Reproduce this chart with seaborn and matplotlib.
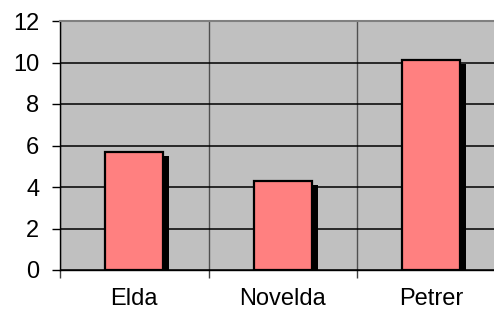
import matplotlib
matplotlib.use("Agg")
import matplotlib.pyplot as plt
import matplotlib.patheffects as pe
import seaborn as sns
import pandas as pd

categories = ["Elda", "Novelda", "Petrer"]
values = [5.7, 4.3, 10.1]
yticks = [0, 2, 4, 6, 8, 10, 12]

sns.set_style("white")
plt.rcParams['font.family'] = ['Liberation Sans', 'DejaVu Sans']

df = pd.DataFrame({"cat": categories, "val": values})

fig = plt.figure(figsize=(4.94, 3.19), dpi=100)
W, H = 494, 319
ax = fig.add_axes([60 / W, 49 / H, 445.5 / W, 249 / H])
ax.set_facecolor("#C0C0C0")

sns.barplot(data=df, x="cat", y="val", color="#FF8080", saturation=1,
            width=0.39, edgecolor="black", linewidth=1.6, ax=ax, zorder=3)
for p in ax.patches:
    p.set_path_effects([pe.SimplePatchShadow(offset=(4.5, -2.8), shadow_rgbFace="black", alpha=1.0),
                        pe.Normal()])

ax.set_xlim(-0.5, 2.5)
ax.set_ylim(0, 12)
ax.set_yticks(yticks)
ax.set_yticklabels([str(t) for t in yticks], fontsize=17, color="black")
ax.set_xticks(range(len(categories)))
ax.set_xticklabels(categories, fontsize=17, color="black")
ax.set_xlabel("")
ax.set_ylabel("")

ax.set_xticks([-0.5, 0.5, 1.5, 2.5], minor=True)
ax.tick_params(axis="x", which="major", length=0, pad=13)
ax.tick_params(axis="x", which="minor", length=6, width=1, color="#404040", direction="out", bottom=True)
ax.tick_params(axis="y", which="major", length=6, width=1, color="black", direction="out", pad=9, left=True)

ax.yaxis.grid(True, color="black", linewidth=1.1, zorder=1)
ax.xaxis.grid(True, which="minor", color="#505050", linewidth=1.0, zorder=1)
ax.xaxis.grid(False, which="major")
ax.set_axisbelow(True)

for s in ["left", "bottom"]:
    ax.spines[s].set_color("black")
    ax.spines[s].set_linewidth(1.0)
ax.spines["top"].set_color("#808080")
ax.spines["top"].set_linewidth(1.5)
ax.spines["right"].set_visible(False)

fig.savefig("out.png", dpi=100)
